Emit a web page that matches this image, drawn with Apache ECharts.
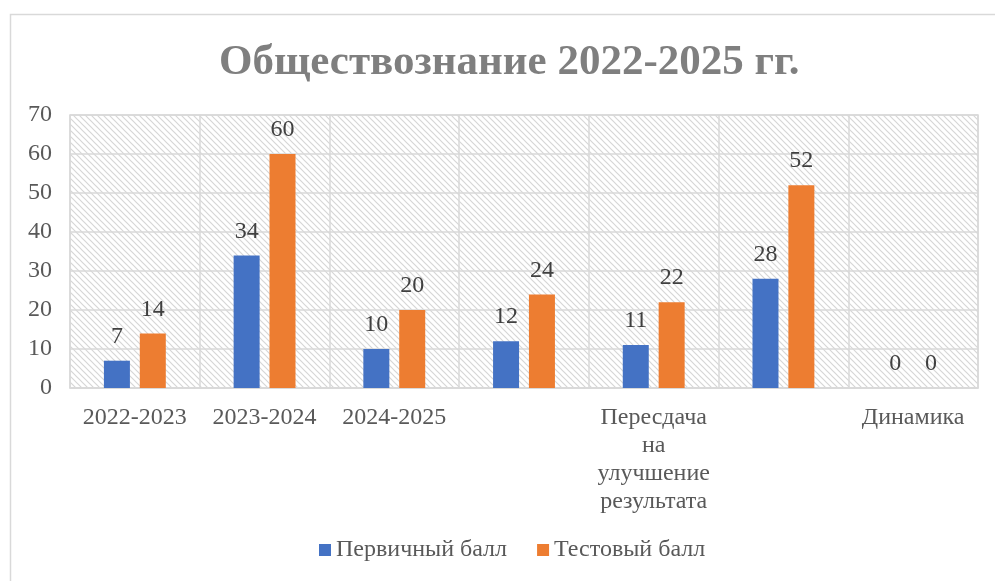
<!DOCTYPE html>
<html>
<head>
<meta charset="utf-8">
<script src="https://cdn.jsdelivr.net/npm/echarts@6/dist/echarts.min.js"></script>
<style>
html,body{margin:0;padding:0;background:#fff;}
#c{width:995px;height:581px;}
</style>
</head>
<body>
<div id="c"></div>
<script>
const titleText = 'Обществознание 2022-2025 гг.';
const categories = ['2022-2023', '2023-2024', '2024-2025', '', 'Пересдача\nна\nулучшение\nрезультата', '', 'Динамика'];
const seriesNames = ['Первичный балл', 'Тестовый балл'];
const primaryScores = [7, 34, 10, 12, 11, 28, 0];
const testScores = [14, 60, 20, 24, 22, 52, 0];
const yTicks = { min: 0, max: 70, interval: 10 };

const FONT = '"Liberation Serif", "Times New Roman", serif';

function makeHatch() {
  const s = 6;
  const cv = document.createElement('canvas');
  cv.width = s; cv.height = s;
  const ctx = cv.getContext('2d');
  ctx.fillStyle = '#ffffff';
  ctx.fillRect(0, 0, s, s);
  ctx.strokeStyle = '#d6d6d6';
  ctx.lineWidth = 1.2;
  ctx.beginPath();
  ctx.moveTo(-1, -1); ctx.lineTo(s + 1, s + 1);
  ctx.moveTo(-1, s - 1); ctx.lineTo(1, s + 1);
  ctx.moveTo(s - 1, -1); ctx.lineTo(s + 1, 1);
  ctx.stroke();
  return cv;
}

const chart = echarts.init(document.getElementById('c'), null, { renderer: 'canvas' });
const labelStyle = { show: true, position: 'top', distance: 12, fontFamily: FONT, fontSize: 24, color: '#404040' };

chart.setOption({
  animation: false,
  backgroundColor: '#ffffff',
  graphic: [{
    type: 'rect', left: 8, top: 12, shape: { width: 1000, height: 600 },
    style: { fill: 'none', stroke: '#d9d9d9', lineWidth: 1.5 }, silent: true, z: -10
  }],
  title: {
    text: titleText, left: 214, top: 36,
    textStyle: { fontFamily: FONT, fontSize: 43, fontWeight: 'bold', color: '#7f7f7f' }
  },
  legend: {
    bottom: 14, left: 314, itemWidth: 12, itemHeight: 12, itemGap: 30,
    icon: 'rect',
    textStyle: { fontFamily: FONT, fontSize: 24, color: '#595959' },
    data: seriesNames
  },
  grid: {
    left: 70, right: 17, top: 115, bottom: 193, show: true,
    backgroundColor: { image: makeHatch(), repeat: 'repeat' },
    borderColor: '#d9d9d9', borderWidth: 1.5
  },
  xAxis: {
    type: 'category', data: categories,
    axisLine: { lineStyle: { color: '#d9d9d9', width: 1.5 } },
    axisTick: { show: false },
    splitLine: { show: true, lineStyle: { color: '#d9d9d9', width: 1.5 } },
    axisLabel: { interval: 0, fontFamily: FONT, fontSize: 24, color: '#595959', margin: 16, lineHeight: 28 }
  },
  yAxis: {
    type: 'value', min: yTicks.min, max: yTicks.max, interval: yTicks.interval,
    axisLine: { show: false }, axisTick: { show: false },
    splitLine: { lineStyle: { color: '#d9d9d9', width: 1.5 } },
    axisLabel: { fontFamily: FONT, fontSize: 24, color: '#595959', margin: 18 }
  },
  series: [
    { name: seriesNames[0], type: 'bar', data: primaryScores, barWidth: 26, barGap: '38%', itemStyle: { color: '#4472C4' }, label: labelStyle },
    { name: seriesNames[1], type: 'bar', data: testScores, barWidth: 26, barGap: '38%', itemStyle: { color: '#ED7D31' }, label: labelStyle }
  ]
});
</script>
</body>
</html>
